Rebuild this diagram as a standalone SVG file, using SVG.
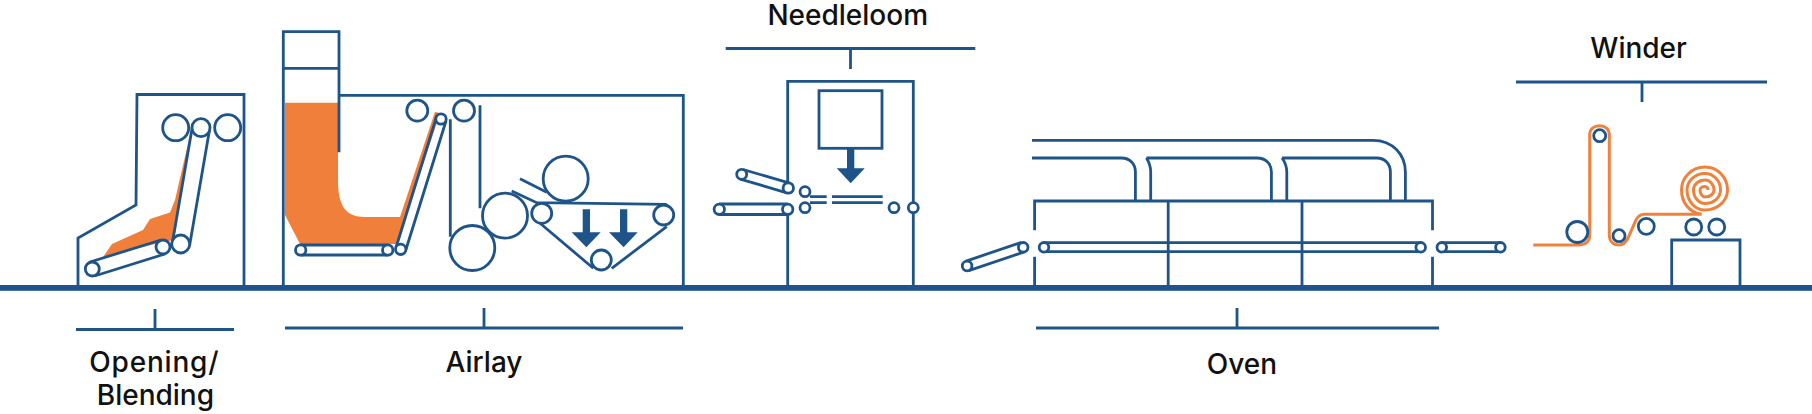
<svg xmlns="http://www.w3.org/2000/svg" width="1812" height="414" viewBox="0 0 1812 414">
<style>
.l{fill:none;stroke:#1f5488;stroke-width:2.8}
.c{fill:#fff;stroke:#1f5488;stroke-width:2.8}
.o{fill:none;stroke:#f0813d;stroke-width:3}
.of{fill:#f17f3c}
.a{fill:#1f5488}
.t{font-family:"Inter","Liberation Sans",sans-serif;font-size:28px;font-weight:500;fill:#111;text-anchor:middle}
</style>
<rect width="1812" height="414" fill="#fff"/>
<g id="connectors">
<path class="l" d="M76 329.500H234M155 309V329.500"/>
<path class="l" d="M285 328H683M484 308V328"/>
<path class="l" d="M725.700 48.500H975.300M850.500 48.500V69"/>
<path class="l" d="M1036 328H1439M1237 308V328"/>
<path class="l" d="M1516 82H1767M1642 82V102"/>
</g>
<g id="ground"><rect class="a" y="285" width="1812" height="5.800"/></g>
<g id="opening">
<path class="of" d="M103 257L112 244L143 230L150 219L170 212.500L175 200L190 135L174 240L163 242Z"/>
<path class="l" d="M78 285V238L136 205L137 94.500H244V285"/>
<circle class="c" cx="175.700" cy="127.700" r="13"/><circle class="c" cx="227.700" cy="127.700" r="13"/>
<path class="l" d="M192.500 126L172.500 242M209.500 130L189.500 246"/>
<circle class="c" cx="201" cy="127.700" r="9"/><circle class="c" cx="180.700" cy="244" r="9"/>
<path class="l" d="M90 262L161 240M94.500 276L165 254"/>
<circle class="c" cx="92.300" cy="269" r="7"/><circle class="c" cx="163" cy="247" r="7"/>
</g>
<g id="airlay">
<path class="of" d="M285 102.700H338V180C338 205 345 217 365 217H400L435 111.700L440 113.300L396.700 244H300L285 215Z"/>
<path class="l" d="M283.300 285V31.700H339V152.300M283.300 68.300H339M339 95.300H683.300V285"/>
<path class="l" d="M300.700 245H387.700M300.700 255H387.700M396 247.500L436.500 117M405.500 251L446 121"/>
<circle class="c" cx="300.700" cy="250" r="5.200"/><circle class="c" cx="387.700" cy="250" r="5.200"/><circle class="c" cx="400.700" cy="249.300" r="5.200"/><circle class="c" cx="441" cy="119" r="5.200"/>
<circle class="c" cx="417.300" cy="110.700" r="10.500"/><circle class="c" cx="464" cy="110.700" r="10.500"/>
<path class="l" d="M450.300 119.300V236.700M480 105.300V208.300"/>
<circle class="c" cx="472.300" cy="248" r="22.500"/><circle class="c" cx="505" cy="215.700" r="22.500"/><circle class="c" cx="565.700" cy="178.700" r="22.500"/>
<path class="l" d="M520 178.700L546.700 192.300M511.700 191L536.700 202.700L666.700 204.300M538.300 221.700L593.300 268.300M611.700 268.300L666.700 226.700"/>
<circle class="c" cx="541.700" cy="213.300" r="10"/><circle class="c" cx="663.700" cy="215" r="10"/><circle class="c" cx="601.300" cy="260" r="10"/>
<path class="a" d="M582.700 209.300H590V232.300H600.700L586.300 247.300L571.700 232.300H582.700Z"/>
<path class="a" d="M620 209.300H627.300V232.300H637.700L623.600 247.300L609 232.300H620Z"/>
</g>
<g id="needleloom">
<path class="l" d="M787.700 183.300V81.300H913.300V285M787.700 208V285"/>
<rect class="l" x="819" y="90.700" width="63" height="57.600"/>
<path class="a" d="M847 148H854.300V168.300H864.700L850.700 183.300L836.700 168.300H847Z"/>
<path class="l" d="M743 169.500L789.700 183.200M740.300 179.100L786.900 192.800"/>
<path class="l" d="M719.300 204H787.700M719.300 214.500H787.700"/>
<circle class="c" cx="741.700" cy="174.300" r="5"/><circle class="c" cx="788.300" cy="188" r="5.200"/><circle class="c" cx="719.300" cy="209.300" r="5.200"/><circle class="c" cx="787.700" cy="209.300" r="5.200"/>
<circle class="c" cx="805" cy="191.700" r="5"/><circle class="c" cx="805" cy="207.700" r="5"/><circle class="c" cx="894" cy="207.700" r="5"/><circle class="c" cx="913.300" cy="207.700" r="5"/>
<path class="l" d="M810 196.700H826.700M832 196.700H882.700M810 202.700H826.700M832 202.700H882.700"/>
</g>
<g id="oven">
<path class="l" d="M1034.600 230.300V201H1432.500V230.300M1034.600 256.700V285M1432.500 256.700V285M1168.200 201V285M1302 201V285"/>
<path class="l" d="M1032 140.300H1373C1393 140.300 1405.400 155 1405.400 172V201M1032 158H1121.400C1130 158 1135.400 164 1135.400 172V201M1146.400 158C1149 162 1150.700 166 1150.700 172V201M1146.400 158H1257C1266 158 1271.400 164 1271.400 172V201M1282 158C1285 162 1286.800 166 1286.800 172V201M1282 158H1376.800C1385 158 1390.400 164 1390.400 172V201"/>
<path class="l" d="M1044 242.700H1420.700M1044 251.700H1420.700M1441.800 242.700H1500.400M1441.800 251.700H1500.400M965.400 261.300L1021.500 242.300M968.800 270.700L1024.900 251.700"/>
<circle class="c" cx="1044" cy="247.300" r="4.800"/><circle class="c" cx="1420.700" cy="247.300" r="4.800"/><circle class="c" cx="1441.800" cy="247.300" r="4.800"/><circle class="c" cx="1500.400" cy="247.300" r="4.800"/><circle class="c" cx="1023.200" cy="247.300" r="4.800"/><circle class="c" cx="967.100" cy="266" r="4.800"/>
</g>
<g id="winder">
<path class="o" d="M1533.300 245H1578.300C1586 245 1589.700 241 1589.700 235V135C1589.700 129 1594 125.700 1599.700 125.700C1605 125.700 1609.300 129 1609.300 135V235C1609.300 241 1613 245 1619 245C1624 245 1626 242 1628 238L1636 220C1638 216 1640 214.300 1644 214.300H1701.700C1690 213 1681.500 203 1681.500 190A23.500 23 0 0 1 1705 167A22.500 23 0 0 1 1727.500 190A22.500 20 0 0 1 1705 210A18 20 0 0 1 1687 190A18 16.500 0 0 1 1705 173.500A15.500 16.500 0 0 1 1720.500 190A15.500 13.500 0 0 1 1705 203.500A11.500 13.500 0 0 1 1693.500 190A11.500 10 0 0 1 1705 180A9 10 0 0 1 1714 190A9 7 0 0 1 1705 197A5 7 0 0 1 1700 190A5 3.500 0 0 1 1705 186.500A3 3.500 0 0 1 1708 190"/>
<circle class="c" cx="1577.300" cy="232" r="10.500"/><circle class="c" cx="1599.700" cy="135.700" r="6"/><circle class="c" cx="1619" cy="235.700" r="6"/><circle class="c" cx="1646.300" cy="226.300" r="8"/><circle class="c" cx="1693.700" cy="227" r="8"/><circle class="c" cx="1716.700" cy="227" r="8"/>
<path class="l" d="M1671.700 285V240H1740V285"/>
</g>
<g id="labels">
<text class="t" x="154.300" y="372" letter-spacing=".8">Opening/</text>
<text class="t" x="155.400" y="405">Blending</text>
<text class="t" x="484" y="372">Airlay</text>
<text class="t" x="847.700" y="24.500">Needleloom</text>
<text class="t" x="1242" y="374">Oven</text>
<text class="t" x="1638.600" y="57.500">Winder</text>
</g>
</svg>
